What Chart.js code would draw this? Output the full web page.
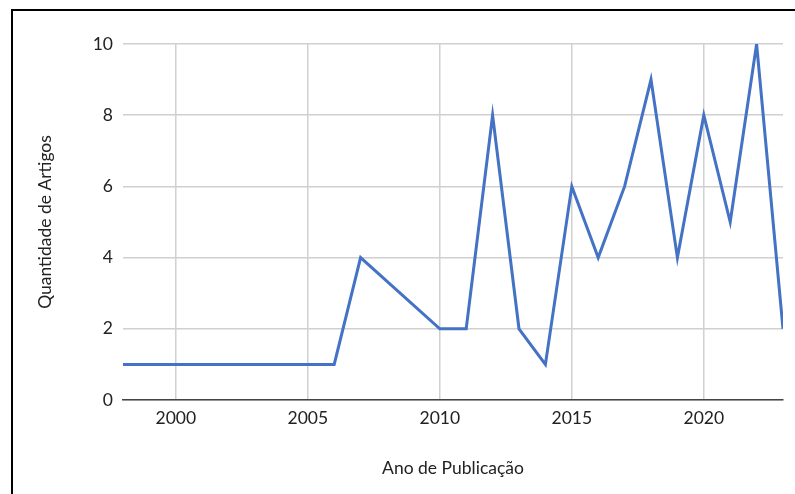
<!DOCTYPE html>
<html>
<head>
<meta charset="utf-8">
<script src="https://cdn.jsdelivr.net/npm/chart.js@4"></script>
<style>
  html, body { margin: 0; padding: 0; background: #fff; }
  #wrap { position: relative; width: 795px; height: 494px; overflow: hidden; }
  #frame { position: absolute; left: 11px; top: 9px; width: 900px; height: 600px; border: 2px solid #000; box-sizing: border-box; }
  #c { position: absolute; left: 0; top: 0; }
</style>
</head>
<body>
<div id="wrap">
  <div id="frame"></div>
  <canvas id="c" width="795" height="494"></canvas>
</div>
<script>
const years  = [1998, 2006, 2007, 2010, 2011, 2012, 2013, 2014, 2015, 2016, 2017, 2018, 2019, 2020, 2021, 2022, 2023];
const counts = [1,    1,    4,    2,    2,    8,    2,    1,    6,    4,    6,    9,    4,    8,    5,    10,   2];
const xTicks = [2000, 2005, 2010, 2015, 2020];
const yTicks = [0, 2, 4, 6, 8, 10];
const xTitle = 'Ano de Publicação';
const yTitle = 'Quantidade de Artigos';

const points = years.map((y, i) => ({ x: y, y: counts[i] }));
const FONT = 'Lato';

new Chart(document.getElementById('c'), {
  type: 'line',
  data: {
    datasets: [{
      data: points,
      borderColor: '#4472c4',
      borderWidth: 3,
      pointRadius: 0,
      tension: 0,
      fill: false
    }]
  },
  options: {
    responsive: false,
    animation: false,
    layout: { padding: { left: 0, right: 12, top: 44, bottom: 0 } },
    plugins: { legend: { display: false }, tooltip: { enabled: false } },
    scales: {
      x: {
        type: 'linear',
        min: 1998,
        max: 2023,
        afterBuildTicks: (s) => { s.ticks = xTicks.map(v => ({ value: v })); },
        afterFit: (s) => { s.height = 94; },
        ticks: { color: '#222', font: { family: FONT, size: 17.5 }, padding: 8, maxRotation: 0, autoSkip: false,
                 callback: (v) => String(v) },
        grid: { color: '#d0d0d0', lineWidth: 1.5, drawTicks: false },
        border: { display: true, color: '#444', width: 1.5 },
        title: { display: true, text: xTitle, color: '#222', font: { family: FONT, size: 17.5 }, padding: { top: 0, bottom: 15 } }
      },
      y: {
        min: 0,
        max: 10,
        afterBuildTicks: (s) => { s.ticks = yTicks.map(v => ({ value: v })); },
        afterFit: (s) => { s.width = 123; },
        ticks: { color: '#222', font: { family: FONT, size: 17.5 }, padding: 10 },
        grid: { color: '#d0d0d0', lineWidth: 1.5, drawTicks: false },
        border: { display: false },
        title: { display: true, text: yTitle, color: '#222', font: { family: FONT, size: 17.5 }, padding: { top: 35, bottom: 0 } }
      }
    }
  }
});
</script>
</body>
</html>
